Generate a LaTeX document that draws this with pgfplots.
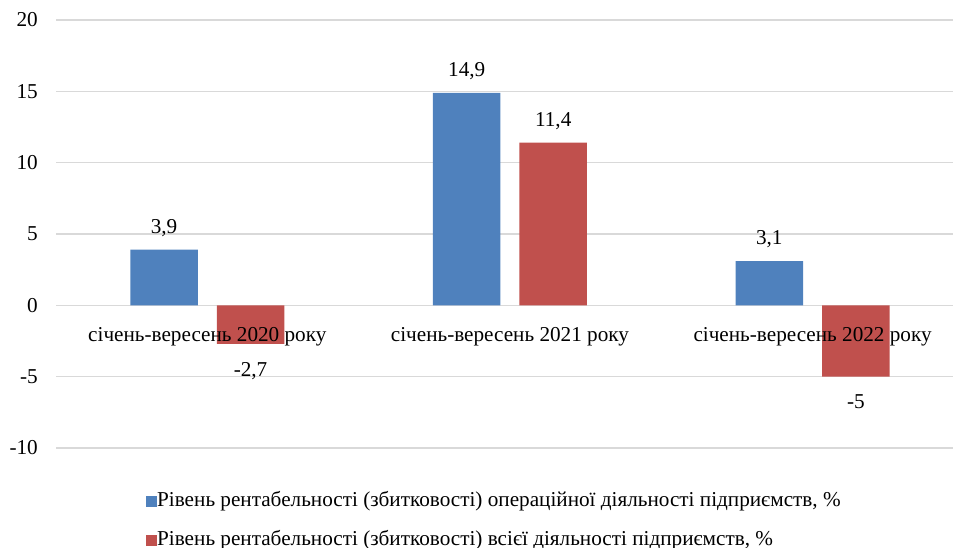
\documentclass[border=0pt]{standalone}
\usepackage{fontspec}
\setmainfont{Liberation Serif}
\usepackage{pgfplots}
\pgfplotsset{compat=1.18}
\definecolor{cblue}{RGB}{79,129,189}
\definecolor{cred}{RGB}{192,80,77}
\definecolor{cgrid}{RGB}{217,217,217}
\pgfplotsset{
  mybase/.style={
    at={(56pt,100pt)}, anchor=south west,
    scale only axis, width=897pt, height=428pt,
    xmin=-0.5, xmax=2.464, ymin=-10, ymax=20,
    axis line style={draw=none},
    major tick length=0pt, tick style={draw=none},
  },
}
\begin{document}
\fontsize{21.2pt}{25pt}\selectfont\rmfamily
\begin{tikzpicture}
\path[use as bounding box] (0,0) rectangle (953pt,548pt);
\begin{axis}[
  mybase,
  ybar=19pt, bar width=0.223,
  ytick={-10,-5,0,5,10,15,20},
  yticklabels={-10,-5,0,5,10,15,20},
  xtick=\empty,
  ymajorgrids, grid style={cgrid, line width=1.3pt},
  yticklabel style={anchor=east, inner sep=0pt, xshift=-18pt},
  point meta=y,
  nodes near coords={\pgfmathprintnumber[use comma, assume math mode=true]{\pgfplotspointmeta}},
  nodes near coords align=vertical,
  every node near coord/.append style={inner xsep=0pt, inner ysep=16pt, text height=16pt, text depth=0pt},
  legend style={at={(axis description cs:0.1003,-0.1028)}, anchor=north west, draw=none, fill=none, inner sep=0pt,
    row sep=20pt, nodes={inner sep=0pt, text height=14pt, text depth=5pt},
    /tikz/every even column/.append style={column sep=4pt}},
  legend cell align=left,
  legend image code/.code={\fill[#1] (0pt,-5.5pt) rectangle (11pt,5.5pt);},
]
\addplot[fill=cblue, draw=none]
  coordinates {(0,3.9) (1,14.9) (2,3.1)};
\addlegendentry{Рівень рентабельності (збитковості) операційної діяльності підприємств, \%}
\addplot[fill=cred, draw=none]
  coordinates {(0,-2.7) (1,11.4) (2,-5)};
\addlegendentry{Рівень рентабельності (збитковості) всієї діяльності підприємств, \%}
\end{axis}
\begin{axis}[
  mybase,
  ytick=\empty,
  xtick={0,1,2},
  xticklabels={січень-вересень 2020 року, січень-вересень 2021 року, січень-вересень 2022 року},
  xticklabel style={anchor=base, inner sep=0pt, yshift=106.3pt},
]
\end{axis}
\end{tikzpicture}
\end{document}
